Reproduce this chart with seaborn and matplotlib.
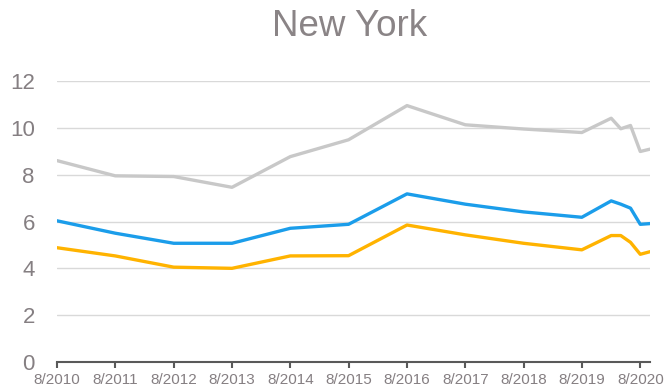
import matplotlib
matplotlib.use("Agg")
import matplotlib.pyplot as plt
import numpy as np
import pandas as pd
import seaborn as sns

# Observation dates: yearly in August, then every two months through 2020
dates = ["2010-08-01", "2011-08-01", "2012-08-01", "2013-08-01", "2014-08-01",
         "2015-08-01", "2016-08-01", "2017-08-01", "2018-08-01", "2019-08-01",
         "2020-02-01", "2020-04-01", "2020-06-01", "2020-08-01", "2020-10-01"]

upper = [8.60, 7.95, 7.92, 7.46, 8.77, 9.49, 10.95, 10.13, 9.95, 9.80,
         10.41, 9.96, 10.10, 8.99, 9.09]
middle = [6.03, 5.50, 5.07, 5.07, 5.71, 5.88, 7.18, 6.74, 6.41, 6.18,
          6.88, 6.74, 6.57, 5.88, 5.91]
lower = [4.88, 4.53, 4.05, 4.00, 4.53, 4.54, 5.85, 5.43, 5.07, 4.79,
         5.40, 5.40, 5.11, 4.60, 4.71]

tick_dates = ["2010-08-01", "2011-08-01", "2012-08-01", "2013-08-01",
              "2014-08-01", "2015-08-01", "2016-08-01", "2017-08-01",
              "2018-08-01", "2019-08-01", "2020-08-01"]
tick_labels = ["8/2010", "8/2011", "8/2012", "8/2013", "8/2014", "8/2015",
               "8/2016", "8/2017", "8/2018", "8/2019", "8/2020"]
y_ticks = [0, 2, 4, 6, 8, 10, 12]

sns.set_theme(style="white")
plt.rcParams["font.family"] = ["Liberation Sans", "DejaVu Sans"]

df = pd.DataFrame({
    "date": pd.to_datetime(dates * 3),
    "value": upper + middle + lower,
    "series": ["upper"] * len(dates) + ["middle"] * len(dates) + ["lower"] * len(dates),
})
palette = {"upper": "#C8C8C8", "middle": "#1B9DEA", "lower": "#FFB300"}

fig = plt.figure(figsize=(6.64, 3.89), dpi=100)
ax = fig.add_axes([57 / 664, 27 / 389, (650 - 57) / 664, (362 - 81) / 389])

sns.lineplot(data=df, x="date", y="value", hue="series", palette=palette,
             linewidth=2.4, legend=False, ax=ax, zorder=3)

ax.set_xlim(pd.Timestamp(dates[0]), pd.Timestamp(dates[-1]))
ax.set_ylim(0, 12)
ax.set_yticks(y_ticks)
ax.set_yticklabels([str(v) for v in y_ticks])
ax.set_xticks(pd.to_datetime(tick_dates))
ax.set_xticklabels(tick_labels)
ax.set_xlabel("")
ax.set_ylabel("")

ax.grid(axis="y", color="#D9D9D9", linewidth=1.0, zorder=0)
ax.grid(axis="x", visible=False)
for side in ["top", "right", "left"]:
    ax.spines[side].set_visible(False)
ax.spines["bottom"].set_color("#595959")
ax.spines["bottom"].set_linewidth(1.5)
ax.spines["bottom"].set_zorder(4)

ax.tick_params(axis="x", which="both", bottom=True, length=4, width=1.5,
               color="#595959", labelsize=11, labelcolor="#857F82", pad=4)
ax.tick_params(axis="y", length=0, labelsize=16, labelcolor="#857F82", pad=16)

fig.text(350 / 664, 1 - 26 / 389, "New York", ha="center", va="center",
         fontsize=26.5, color="#8A8486")

fig.savefig("out.png", dpi=100)
